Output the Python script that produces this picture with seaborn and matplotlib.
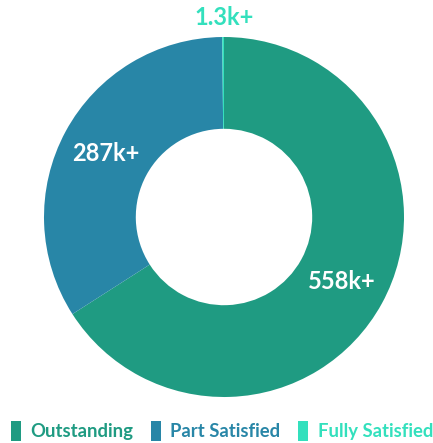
import numpy as np
import matplotlib
matplotlib.use("Agg")
import matplotlib.pyplot as plt
import seaborn as sns

# Survey outcome counts
categories = ["Outstanding", "Part Satisfied", "Fully Satisfied"]
values = [558000, 287000, 1300]
value_labels = ["558k+", "287k+", "1.3k+"]
colors = ["#1f9b82", "#2886a7", "#33e0bd"]

sns.set_theme(style="white")
plt.rcParams["font.family"] = ["Lato", "DejaVu Sans"]

fig = plt.figure(figsize=(4.33, 4.43), dpi=100)
ax = fig.add_axes([44 / 433, 46 / 443, 360 / 433, 360 / 443])

ring_width = 0.51
wedges, _ = ax.pie(
    values,
    colors=colors,
    startangle=90,
    counterclock=False,
    radius=1.0,
    wedgeprops=dict(width=ring_width, linewidth=0),
)
ax.set_xlim(-1, 1)
ax.set_ylim(-1, 1)
ax.set_aspect("equal")
ax.axis("off")

# Value labels: inside the ring for the large slices, above for the tiny one
for w, lab, col in zip(wedges, value_labels, colors):
    mid = np.deg2rad((w.theta1 + w.theta2) / 2)
    if (w.theta2 - w.theta1) > 20:
        r = 1.0 - ring_width / 2
        ax.text(r * np.cos(mid), r * np.sin(mid), lab, ha="center", va="center",
                color="white", fontsize=17, fontweight="bold")
    else:
        ax.text(0, 1.11, lab, ha="center", va="center",
                color=col, fontsize=17, fontweight="bold", clip_on=False)

leg = fig.legend(
    wedges, categories,
    loc="center", bbox_to_anchor=(222 / 433, 1 - 431 / 443),
    ncol=3, frameon=False, fontsize=13.3,
    handlelength=0.55, handleheight=1.3, handletextpad=0.5,
    columnspacing=0.95, borderaxespad=0,
)
for txt, col in zip(leg.get_texts(), colors):
    txt.set_color(col)
    txt.set_fontweight("bold")

fig.savefig("out.png", dpi=100)
